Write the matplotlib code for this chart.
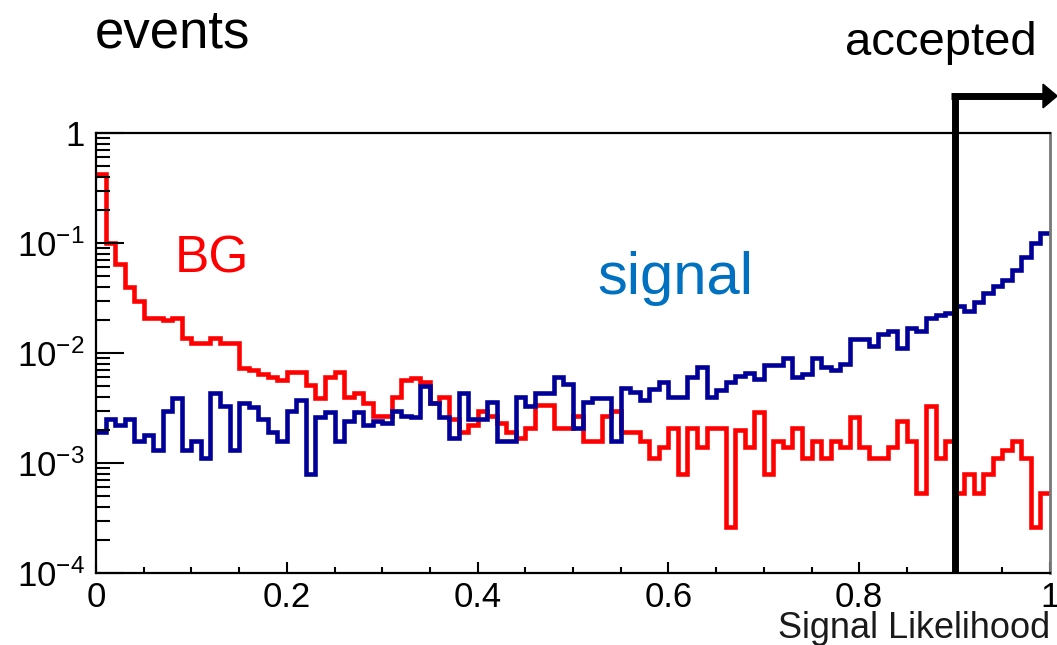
import numpy as np
import matplotlib
matplotlib.use("Agg")
import matplotlib.pyplot as plt
from matplotlib.ticker import FixedLocator, LogLocator, NullFormatter, FixedFormatter
from matplotlib.patches import Polygon
import matplotlib.transforms as mtransforms

plt.rcParams['font.family'] = ['Liberation Sans', 'DejaVu Sans']
plt.rcParams['mathtext.fontset'] = 'custom'
plt.rcParams['mathtext.rm'] = 'Liberation Sans'
plt.rcParams['mathtext.it'] = 'Liberation Sans'

# ---- data (100 bins on [0, 1]) ----
bin_edges = np.linspace(0.0, 1.0, 101)

background = [
    0.42, 0.10, 0.065, 0.040, 0.030, 0.021, 0.021, 0.020, 0.021, 0.0137,
    0.0123, 0.0123, 0.0137, 0.0123, 0.0123, 0.0073, 0.0070, 0.0065, 0.0060, 0.0057,
    0.0067, 0.0067, 0.0051, 0.0039, 0.0060, 0.0067, 0.0040, 0.0043, 0.0035, 0.0027,
    0.0027, 0.0040, 0.0057, 0.0059, 0.0055, 0.0035, 0.0040, 0.0025, 0.0019, 0.0022,
    0.0030, 0.0027, 0.0023, 0.0019, 0.0017, 0.0021, 0.0034, 0.0034, 0.0021, 0.0021,
    0.0027, 0.0016, 0.0016, 0.0027, 0.0030, 0.0019, 0.0019, 0.0016, 0.0011, 0.0014,
    0.0021, 0.0008, 0.0021, 0.0014, 0.0021, 0.0021, 0.00026, 0.0020, 0.0014, 0.0029,
    0.0008, 0.0016, 0.0014, 0.0021, 0.0011, 0.0016, 0.0011, 0.0016, 0.0014, 0.0026,
    0.0014, 0.0011, 0.0011, 0.0014, 0.0024, 0.0016, 0.00053, 0.0033, 0.0011, 0.0016,
    0.00053, 0.0008, 0.00053, 0.0008, 0.0011, 0.0013, 0.0016, 0.0011, 0.00026, 0.00053,
]

signal = [
    0.0019, 0.0025, 0.0022, 0.0025, 0.0016, 0.0018, 0.0013, 0.0030, 0.0039, 0.0013,
    0.0016, 0.0011, 0.0043, 0.0033, 0.0013, 0.0035, 0.0032, 0.0025, 0.0019, 0.0016,
    0.0030, 0.0037, 0.0008, 0.0026, 0.0029, 0.0016, 0.0024, 0.0029, 0.0022, 0.0024,
    0.0023, 0.0030, 0.0027, 0.0026, 0.0050, 0.0035, 0.0026, 0.0017, 0.0043, 0.0025,
    0.0025, 0.0036, 0.0016, 0.0016, 0.0040, 0.0033, 0.0043, 0.0043, 0.0060, 0.0052,
    0.0021, 0.0036, 0.0039, 0.0039, 0.0016, 0.0048, 0.0044, 0.0037, 0.0047, 0.0055,
    0.0040, 0.0040, 0.0060, 0.0075, 0.0040, 0.0046, 0.0055, 0.0062, 0.0066, 0.0058,
    0.0078, 0.0078, 0.0090, 0.0060, 0.0065, 0.0090, 0.0075, 0.0070, 0.0080, 0.0135,
    0.0135, 0.0115, 0.0150, 0.0160, 0.0110, 0.0170, 0.0160, 0.0210, 0.0220, 0.0230,
    0.0270, 0.0240, 0.0290, 0.0350, 0.0410, 0.0460, 0.0570, 0.0750, 0.1000, 0.1230,
]

x_ticks = [0.0, 0.2, 0.4, 0.6, 0.8, 1.0]
x_tick_labels = ["0", "0.2", "0.4", "0.6", "0.8", "1"]
y_ticks = [1e-4, 1e-3, 1e-2, 1e-1, 1.0]
y_tick_labels = [r"10$^{-4}$", r"10$^{-3}$", r"10$^{-2}$", r"10$^{-1}$", "1"]
cut_value = 0.9

# ---- figure ----
W, H = 1057, 645
fig = plt.figure(figsize=(W / 100, H / 100), dpi=100)
ax = fig.add_axes([96 / W, 1 - 573 / H, (1050 - 96) / W, (573 - 133) / H])

ax.stairs(background, bin_edges, baseline=None, color="#ff0000", linewidth=3.3)
ax.stairs(signal, bin_edges, baseline=None, color="#000099", linewidth=3.3)

ax.set_yscale("log")
ax.set_xlim(0, 1)
ax.set_ylim(1e-4, 1)

ax.xaxis.set_major_locator(FixedLocator(x_ticks))
ax.xaxis.set_major_formatter(FixedFormatter(x_tick_labels))
ax.xaxis.set_minor_locator(FixedLocator(np.arange(0, 1.0001, 0.05)))
ax.yaxis.set_major_locator(FixedLocator(y_ticks))
ax.yaxis.set_major_formatter(FixedFormatter(y_tick_labels))
ax.yaxis.set_minor_locator(LogLocator(base=10, subs=np.arange(2, 10)))
ax.yaxis.set_minor_formatter(NullFormatter())

ax.tick_params(axis="x", which="major", direction="in", length=8, width=1.5,
               labelsize=25, pad=6, top=False)
ax.tick_params(axis="x", which="minor", direction="in", length=4, width=1.5, top=False)
ax.tick_params(axis="y", which="major", direction="in", length=20, width=1.5,
               labelsize=25, pad=8, right=False)
ax.tick_params(axis="y", which="minor", direction="in", length=10, width=1.5, right=False)

for s in ["left", "bottom", "top"]:
    ax.spines[s].set_linewidth(1.6)
    ax.spines[s].set_color("black")
ax.spines["right"].set_linewidth(2.0)
ax.spines["right"].set_color("#777777")

fig.text(1050 / W, 1 - 638 / H, "Signal Likelihood", ha="right", va="baseline",
         fontsize=26, color="#1a1a1a")

# labels
fig.text(95 / W, 1 - 47 / H, "events", ha="left", va="baseline", fontsize=38, color="black")
fig.text(845 / W, 1 - 55 / H, "accepted", ha="left", va="baseline", fontsize=34, color="black")
fig.text(175 / W, 1 - 273 / H, "BG", ha="left", va="baseline", fontsize=37, color="#ff0000")
fig.text(597 / W, 1 - 294 / H, "signal", ha="left", va="baseline", fontsize=43, color="#0070c0")

# cut line with arrow
trans = mtransforms.blended_transform_factory(ax.transData, ax.transAxes)
top_y = (573 - 96) / (573 - 133)
x_end = (1043 - 96) / (1050 - 96)
ax.plot([cut_value, cut_value], [0, top_y], transform=trans, color="black",
        linewidth=5, clip_on=False, solid_capstyle="butt", zorder=5)
ax.plot([cut_value - 0.0035, x_end], [top_y, top_y], transform=ax.transAxes, color="black",
        linewidth=5, clip_on=False, solid_capstyle="butt", zorder=5)
head = Polygon([[x_end, top_y + 0.027], [x_end, top_y - 0.027], [1.0075, top_y]],
               closed=True, transform=ax.transAxes, color="black", clip_on=False, zorder=5)
ax.add_patch(head)

fig.savefig("out.png", dpi=100)
